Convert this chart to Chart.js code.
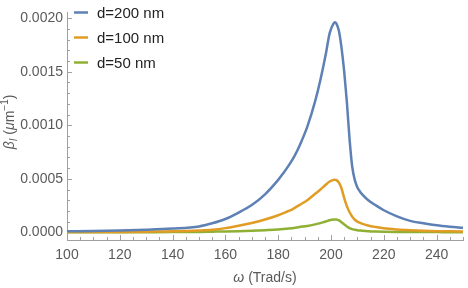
<!DOCTYPE html>
<html>
<head>
<meta charset="utf-8">
<script src="https://cdn.jsdelivr.net/npm/chart.js@4.4.1/dist/chart.umd.min.js"></script>
<style>
  html, body { margin: 0; padding: 0; background: #fff; }
  #wrap { width: 468px; height: 288px; position: relative; }
</style>
</head>
<body>
<div id="wrap"><canvas id="chart"></canvas></div>
<script>
// omega (Trad/s) sample points
const omega = [100, 110, 120, 130, 140, 150, 155, 160, 165, 170, 175, 180, 182, 184, 186, 188, 191, 194, 196, 198, 199.5, 201, 201.5, 202, 203, 204, 205, 206, 207, 208, 209, 210, 211, 212, 214, 217, 220, 225, 230, 235, 240, 245, 250];

const beta200 = [0.000010, 0.000013, 0.000018, 0.000025, 0.000036, 0.000056, 0.000085, 0.000125, 0.000185, 0.000255, 0.000355, 0.000490, 0.000555, 0.000625, 0.000705, 0.000805, 0.000985, 0.001225, 0.001425, 0.001660, 0.001860, 0.001950, 0.001960, 0.001950, 0.001880, 0.001720, 0.001500, 0.001220, 0.000880, 0.000620, 0.000490, 0.000420, 0.000380, 0.000350, 0.000303, 0.000252, 0.000207, 0.000150, 0.000108, 0.000085, 0.000066, 0.000053, 0.000043];
const beta100 = [0.000003, 0.000004, 0.000005, 0.000007, 0.000010, 0.000018, 0.000025, 0.000040, 0.000062, 0.000088, 0.000120, 0.000160, 0.000180, 0.000200, 0.000225, 0.000255, 0.000300, 0.000360, 0.000400, 0.000445, 0.000475, 0.000490, 0.000492, 0.000488, 0.000465, 0.000410, 0.000320, 0.000245, 0.000190, 0.000148, 0.000118, 0.000100, 0.000089, 0.000080, 0.000065, 0.000050, 0.000038, 0.000027, 0.000020, 0.000015, 0.000012, 0.000010, 0.000008];
const beta50 = [0.000001, 0.000001, 0.000001, 0.000002, 0.000003, 0.000005, 0.000007, 0.000009, 0.000012, 0.000016, 0.000021, 0.000027, 0.000031, 0.000036, 0.000042, 0.000050, 0.000060, 0.000075, 0.000087, 0.000102, 0.000113, 0.000120, 0.000121, 0.000120, 0.000112, 0.000095, 0.000075, 0.000056, 0.000041, 0.000031, 0.000025, 0.000020, 0.000017, 0.000015, 0.000012, 0.000009, 0.000007, 0.000005, 0.000004, 0.000003, 0.000003, 0.000002, 0.000002];

const seriesLabels = ['d=200 nm', 'd=100 nm', 'd=50 nm'];
const seriesColors = ['#5e81b5', '#e19c24', '#8fb032'];

const xTicks = [100, 120, 140, 160, 180, 200, 220, 240];
const yTicks = [0, 0.0005, 0.0010, 0.0015, 0.0020];
const yTickLabels = ['0.0000', '0.0005', '0.0010', '0.0015', '0.0020'];

const FONT = '"Liberation Sans", Arial, sans-serif';
const GREY = '#5a5a5a';

function toPoints(ys) {
  return omega.map((x, i) => ({ x: x, y: ys[i] }));
}

// inward tick marks, Mathematica style
const tickMarks = {
  id: 'tickMarks',
  beforeDatasetsDraw(chart) {
    const { ctx, chartArea, scales } = chart;
    ctx.save();
    ctx.strokeStyle = '#a0a0a0';
    ctx.lineWidth = 1;
    ctx.beginPath();
    for (let v = 100; v <= 250; v += 5) {
      const px = Math.round(scales.x.getPixelForValue(v)) + 0.5;
      const len = xTicks.includes(v) ? 5 : 3;
      ctx.moveTo(px, chartArea.bottom);
      ctx.lineTo(px, chartArea.bottom - len);
    }
    for (let k = 0; k <= 20; k++) {
      const v = k * 0.0001;
      const py = Math.round(scales.y.getPixelForValue(v)) + 0.5;
      const len = k % 5 === 0 ? 5 : 3;
      ctx.moveTo(chartArea.left, py);
      ctx.lineTo(chartArea.left + len, py);
    }
    ctx.stroke();
    ctx.restore();
  }
};

// axis titles with italic symbols, sub- and superscripts
const axisTitles = {
  id: 'axisTitles',
  afterDraw(chart) {
    const { ctx, chartArea } = chart;
    ctx.save();
    ctx.fillStyle = GREY;
    ctx.textBaseline = 'alphabetic';

    // x title
    const parts = [['italic 14px ' + FONT, 'ω'], ['14px ' + FONT, ' (Trad/s)']];
    let w = 0;
    parts.forEach(p => { ctx.font = p[0]; w += ctx.measureText(p[1]).width; });
    let x = (chartArea.left + chartArea.right) / 2 - w / 2;
    parts.forEach(p => { ctx.font = p[0]; ctx.fillText(p[1], x, 282); x += ctx.measureText(p[1]).width; });

    // y title
    const yp = [
      ['italic 14px ' + FONT, 'β', 0],
      ['italic 10px ' + FONT, 'I', 3],
      ['14px ' + FONT, ' (', 0],
      ['italic 14px ' + FONT, 'μ', 0],
      ['14px ' + FONT, 'm', 0],
      ['10px ' + FONT, '−1', -6],
      ['14px ' + FONT, ')', 0]
    ];
    w = 0;
    yp.forEach(p => { ctx.font = p[0]; w += ctx.measureText(p[1]).width; });
    ctx.translate(14, 122);
    ctx.rotate(-Math.PI / 2);
    x = -w / 2;
    yp.forEach(p => { ctx.font = p[0]; ctx.fillText(p[1], x, p[2]); x += ctx.measureText(p[1]).width; });
    ctx.restore();
  }
};

// legend inside the plot, top left
const innerLegend = {
  id: 'innerLegend',
  afterDraw(chart) {
    const { ctx } = chart;
    ctx.save();
    ctx.font = '15px ' + FONT;
    ctx.textBaseline = 'middle';
    chart.data.datasets.forEach((ds, i) => {
      const y = 12.5 + i * 25;
      ctx.strokeStyle = ds.borderColor;
      ctx.lineWidth = 2.5;
      ctx.beginPath();
      ctx.moveTo(74, y);
      ctx.lineTo(88, y);
      ctx.stroke();
      ctx.fillStyle = '#222';
      ctx.fillText(ds.label, 97, y + 1);
    });
    ctx.restore();
  }
};

new Chart(document.getElementById('chart'), {
  type: 'line',
  data: {
    datasets: [beta200, beta100, beta50].map((ys, i) => ({
      label: seriesLabels[i],
      data: toPoints(ys),
      borderColor: seriesColors[i],
      borderWidth: 2.5,
      pointRadius: 0,
      fill: false,
      cubicInterpolationMode: 'monotone'
    }))
  },
  options: {
    responsive: true,
    maintainAspectRatio: false,
    animation: false,
    layout: { padding: { top: 0, right: 5, left: 0, bottom: 0 } },
    plugins: { legend: { display: false }, tooltip: { enabled: false } },
    scales: {
      x: {
        type: 'linear',
        min: 100,
        max: 250,
        afterBuildTicks: s => { s.ticks = xTicks.map(v => ({ value: v })); },
        afterFit: s => { s.height = 48; },
        grid: { display: false, drawTicks: false },
        border: { display: true, color: '#a0a0a0', width: 1 },
        ticks: {
          padding: 7,
          maxRotation: 0,
          autoSkip: false,
          color: GREY,
          font: { family: FONT, size: 14 },
          callback: v => String(v)
        }
      },
      y: {
        type: 'linear',
        min: -0.0000708,
        max: 0.002053,
        afterBuildTicks: s => { s.ticks = yTicks.map(v => ({ value: v })); },
        afterFit: s => { s.width = 67; },
        grid: { display: false, drawTicks: false },
        border: { display: true, color: '#a0a0a0', width: 1 },
        ticks: {
          padding: 4,
          autoSkip: false,
          color: GREY,
          font: { family: FONT, size: 14 },
          callback: (v, i) => yTickLabels[i]
        }
      }
    }
  },
  plugins: [tickMarks, axisTitles, innerLegend]
});
</script>
</body>
</html>
